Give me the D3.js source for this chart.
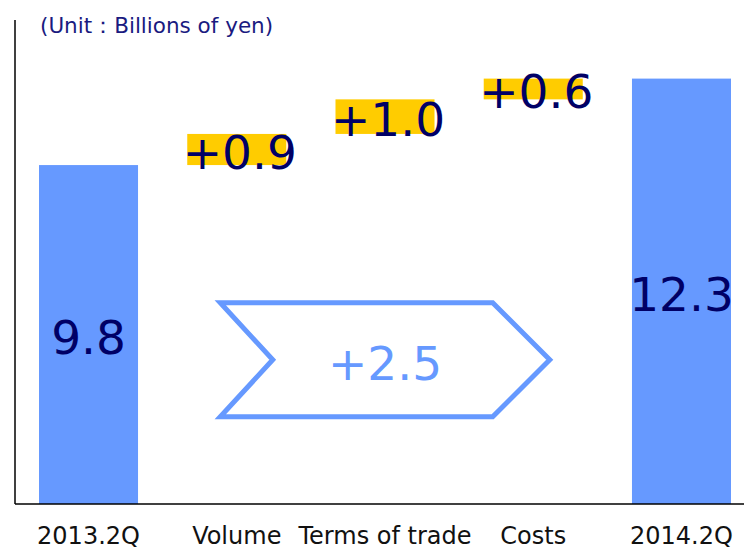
<!DOCTYPE html>
<html>
<head>
<meta charset="utf-8">
<script src="https://cdn.jsdelivr.net/npm/d3@7"></script>
<style>
html,body{margin:0;padding:0;background:#fff;}
svg{display:block;}
text{font-family:"DejaVu Sans",Verdana,sans-serif;}
</style>
</head>
<body>
<svg id="chart" width="744" height="549"></svg>
<script>
// ---- data ----
const categories = ["2013.2Q", "Volume", "Terms of trade", "Costs", "2014.2Q"];
const kinds      = ["total", "delta", "delta", "delta", "total"];
const values     = [9.8, 0.9, 1.0, 0.6, 12.3];
const labels     = ["9.8", "+0.9", "+1.0", "+0.6", "12.3"];
const unitLabel  = "(Unit：Billions of yen)";
const totalChange = "+2.5";

// ---- layout ----
const svg = d3.select("#chart");
const W = 744, H = 549;
const x0 = 15, baseY = 504;

const x = d3.scaleBand()
  .domain(categories)
  .range([14.4, 755.6])
  .paddingInner(0.332)
  .paddingOuter(0.166);

const y = d3.scaleLinear()
  .domain([0, 12.3])
  .range([baseY, 78.6]);

// compute waterfall extents
let run = 0;
const bars = categories.map((c, i) => {
  let lo, hi;
  if (kinds[i] === "total") { lo = 0; hi = values[i]; run = values[i]; }
  else { lo = run; hi = run + values[i]; run = hi; }
  return {cat: c, kind: kinds[i], lo, hi, label: labels[i]};
});

// bars
svg.selectAll("rect.bar").data(bars).enter().append("rect")
  .attr("class", "bar")
  .attr("x", d => x(d.cat))
  .attr("width", x.bandwidth())
  .attr("y", d => y(d.hi))
  .attr("height", d => y(d.lo) - y(d.hi))
  .attr("fill", d => d.kind === "total" ? "#6699ff" : "#ffcc00");

// value labels
svg.selectAll("text.val").data(bars).enter().append("text")
  .attr("class", "val")
  .attr("x", d => x(d.cat) + x.bandwidth() / 2 + (d.kind === "delta" ? 3 : 0))
  .attr("y", d => (y(d.lo) + y(d.hi)) / 2 + 19.5)
  .attr("text-anchor", "middle")
  .attr("font-size", 47)
  .attr("fill", "#000066")
  .text(d => d.label);

// axes lines
svg.append("line").attr("x1", x0).attr("x2", x0).attr("y1", 20).attr("y2", baseY)
  .attr("stroke", "#000").attr("stroke-width", 1.5);
svg.append("line").attr("x1", x0).attr("x2", W).attr("y1", baseY).attr("y2", baseY)
  .attr("stroke", "#000").attr("stroke-width", 1.5);

// category labels
const xAxis = d3.axisBottom(x).tickSize(0).tickPadding(0);
const gx = svg.append("g").attr("transform", `translate(0,${baseY})`).call(xAxis);
gx.select(".domain").remove();
gx.selectAll("text")
  .attr("y", 39.5)
  .attr("dy", 0)
  .attr("font-size", 24)
  .attr("font-family", "Noto Sans, DejaVu Sans, sans-serif")
  .attr("fill", "#111");

// unit label
svg.append("text")
  .attr("x", 40).attr("y", 33)
  .attr("font-size", 21.5)
  .attr("fill", "#1a1a80")
  .text(unitLabel);

// total change arrow (chevron)
const xl = x("Volume") + 33, xr = x("Costs") + x.bandwidth() - 33;
const yt = y(5.82), yb = y(2.52), ym = (yt + yb) / 2;
const tipW = ym - yt;
const pts = [[xl, yt], [xr - tipW, yt], [xr, ym], [xr - tipW, yb], [xl, yb], [xl + (tipW * 0.92), ym]];
svg.append("path")
  .attr("d", d3.line()(pts) + "Z")
  .attr("fill", "none")
  .attr("stroke", "#6699ff")
  .attr("stroke-width", 5)
  .attr("stroke-linejoin", "miter");
svg.append("text")
  .attr("x", (x("Terms of trade") + x.bandwidth() / 2))
  .attr("y", ym + 20)
  .attr("text-anchor", "middle")
  .attr("font-size", 47)
  .attr("fill", "#6699ff")
  .text(totalChange);
</script>
</body>
</html>
